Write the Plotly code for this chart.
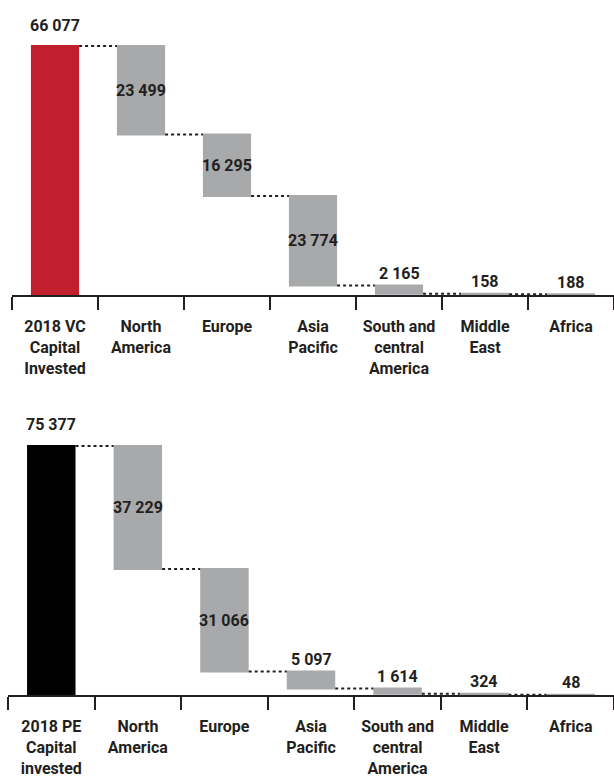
import plotly.graph_objects as go

# ---- data ----
vc_categories = ["2018 VC<br>Capital<br>Invested", "North<br>America", "Europe", "Asia<br>Pacific",
                 "South and<br>central<br>America", "Middle<br>East", "Africa"]
vc_total = 66077
vc_regions = [23499, 16295, 23774, 2165, 158, 188]

pe_categories = ["2018 PE<br>Capital<br>invested", "North<br>America", "Europe", "Asia<br>Pacific",
                 "South and<br>central<br>America", "Middle<br>East", "Africa"]
pe_total = 75377
pe_regions = [37229, 31066, 5097, 1614, 324, 48]

# ---- style ----
W, H = 614, 780
GRAY = "#A7A9AA"
TXT = "#231F20"
FONT = "Roboto"


def fmt(v):
    return f"{v:,}".replace(",", " ")


fig = go.Figure()
annotations = []


def add_chart(cats, total, regions, color, xa, ya):
    measures = ["absolute"] + ["relative"] * len(regions)
    values = [total] + [-v for v in regions]
    fig.add_trace(go.Waterfall(
        x=cats, y=values, measure=measures, xaxis=xa, yaxis=ya,
        totals=dict(marker=dict(color=color)),
        decreasing=dict(marker=dict(color=GRAY)),
        increasing=dict(marker=dict(color=GRAY)),
        connector=dict(line=dict(color=TXT, width=2, dash="dot"), mode="between"),
        hoverinfo="skip", showlegend=False,
    ))
    xref = "x" if xa == "x" else "x2"
    yref = "y" if ya == "y" else "y2"
    # total label above the first bar
    annotations.append(dict(x=cats[0], y=total, xref=xref, yref=yref, text=fmt(total),
                            showarrow=False, yanchor="middle", yshift=21,
                            font=dict(family=FONT, size=16, color=TXT, weight="bold")))
    level = total
    for cat, v in zip(cats[1:], regions):
        top = level
        bottom = level - v
        if v / total > 0.1:
            annotations.append(dict(x=cat, y=(top + bottom) / 2, xref=xref, yref=yref,
                                    text=fmt(v), showarrow=False, yanchor="middle",
                                    font=dict(family=FONT, size=16, color=TXT, weight="bold")))
        else:
            annotations.append(dict(x=cat, y=top, xref=xref, yref=yref,
                                    text=fmt(v), showarrow=False, yanchor="middle", yshift=12,
                                    font=dict(family=FONT, size=16, color=TXT, weight="bold")))
        level = bottom


add_chart(vc_categories, vc_total, vc_regions, "#C11E2E", "x", "y")
add_chart(pe_categories, pe_total, pe_regions, "#000000", "x2", "y2")

xcommon = dict(showline=True, linecolor=TXT, linewidth=2, ticks="outside", tickson="boundaries",
               ticklen=13, tickwidth=2, tickcolor=TXT, showgrid=False, zeroline=False,
               automargin=False, fixedrange=True, ticklabelstandoff=16,
               tickfont=dict(family=FONT, size=16, color=TXT, weight="bold"))

fig.update_layout(
    width=W, height=H,
    margin=dict(l=0, r=0, t=0, b=0),
    paper_bgcolor="white", plot_bgcolor="white",
    waterfallgap=0.44,
    xaxis=dict(domain=[12 / W, 1], anchor="y", **xcommon),
    yaxis=dict(domain=[1 - 295 / H, 1], range=[0, vc_total * 295 / 249], visible=False,
               fixedrange=True),
    xaxis2=dict(domain=[8 / W, 1], anchor="y2", **xcommon),
    yaxis2=dict(domain=[1 - 695 / H, 1 - 400 / H], range=[0, pe_total * 295 / 249], visible=False,
                fixedrange=True),
    annotations=annotations,
)

fig.write_html("out.html", config={"displayModeBar": False},
               post_script="document.body.style.margin='0';document.body.style.overflow='hidden';")
